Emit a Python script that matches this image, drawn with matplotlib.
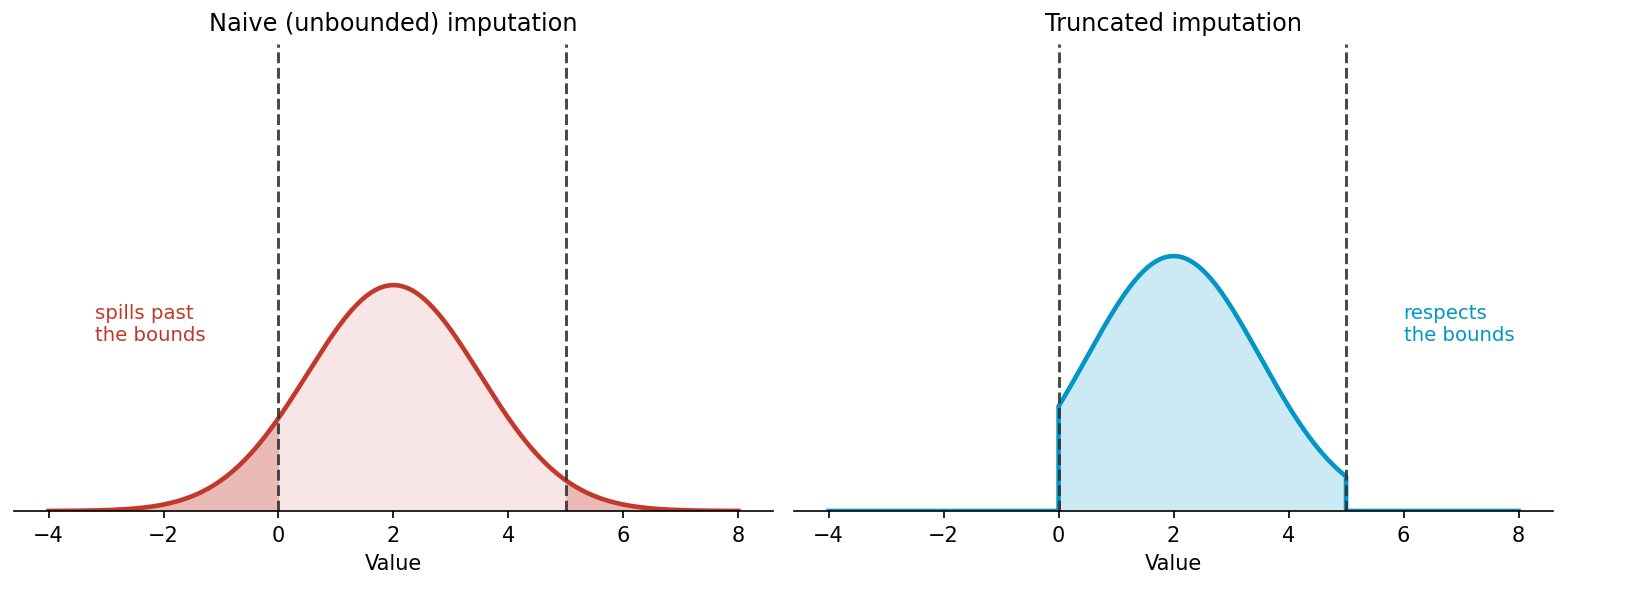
import matplotlib.pyplot as plt
import numpy as np
from math import erf, sqrt

# ======= parameters of the imputation model =======
mu = 2.0
sigma = 1.5
lower, upper = 0.0, 5.0
x_min, x_max = -4.0, 8.0

titles = ["Naive (unbounded) imputation", "Truncated imputation"]
notes = ["spills past\nthe bounds", "respects\nthe bounds"]
note_x = [-3.2, 6.0]
note_y = 0.22
xticks = [-4, -2, 0, 2, 4, 6, 8]

red = "#c0392b"
blue = "#0096c7"


def norm_pdf(x):
    return np.exp(-0.5 * ((x - mu) / sigma) ** 2) / (sigma * np.sqrt(2 * np.pi))


def norm_cdf(v):
    return 0.5 * (1 + erf((v - mu) / (sigma * sqrt(2))))


x = np.linspace(x_min, x_max, 1201)
naive = norm_pdf(x)

# truncated density, with the jumps at the bounds kept sharp
z = norm_cdf(upper) - norm_cdf(lower)
xt = np.concatenate([x[x < lower], [lower, lower], x[(x > lower) & (x < upper)],
                     [upper, upper], x[x > upper]])
trunc = norm_pdf(xt) / z
trunc[(xt < lower) | (xt > upper)] = 0.0
# duplicated bound points: first one at zero, second on the curve (and reverse at upper)
i0 = np.where(xt == lower)[0]
trunc[i0[0]] = 0.0
i5 = np.where(xt == upper)[0]
trunc[i5[1]] = 0.0

fig, axes = plt.subplots(1, 2, figsize=(10.88, 4.067), dpi=150, sharey=True)
fig.subplots_adjust(left=0.0086, right=0.9516, top=0.928, bottom=0.1623, wspace=0.028)

# ---- left: naive ----
ax = axes[0]
ax.fill_between(x, 0, naive, color=red, alpha=0.12, lw=0)
ax.fill_between(x, 0, naive, where=(x <= lower), color=red, alpha=0.25, lw=0)
ax.fill_between(x, 0, naive, where=(x >= upper), color=red, alpha=0.25, lw=0)
ax.plot(x, naive, color=red, lw=2.2)

# ---- right: truncated ----
ax = axes[1]
ax.fill_between(xt, 0, trunc, color=blue, alpha=0.2, lw=0)
ax.plot(xt, trunc, color=blue, lw=2.2)

for ax, title, note, nx, col in zip(axes, titles, notes, note_x, [red, blue]):
    for b in (lower, upper):
        ax.axvline(b, color="#333333", ls="--", lw=1.4, alpha=0.9)
    ax.text(nx, note_y, note, color=col, fontsize=9.5, ha="left", va="center")
    ax.set_title(title, fontsize=11.5)
    ax.set_xlabel("Value")
    ax.set_xticks(xticks)
    ax.set_yticks([])
    ax.set_ylim(0, 0.55)
    for s in ("left", "top", "right"):
        ax.spines[s].set_visible(False)
    ax.tick_params(axis="y", left=False, labelleft=False)

plt.savefig("out.png", dpi=150)
